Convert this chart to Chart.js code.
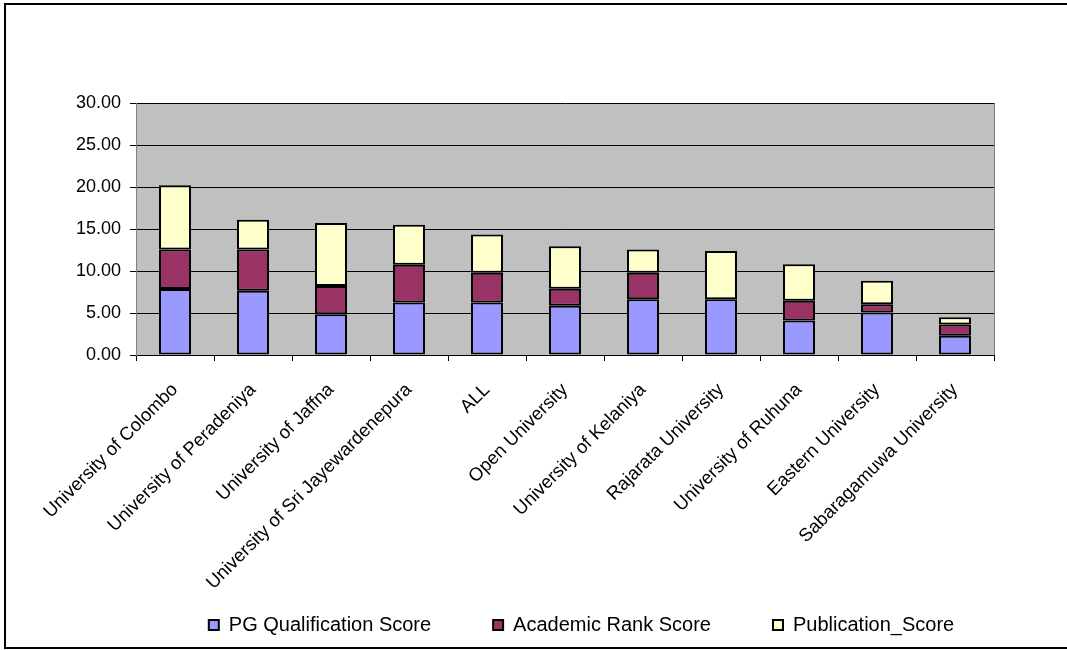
<!DOCTYPE html>
<html>
<head>
<meta charset="utf-8">
<script src="https://cdn.jsdelivr.net/npm/chart.js@4/dist/chart.umd.min.js"></script>
<style>
  html, body { margin: 0; padding: 0; background: #fff; }
  #wrap { width: 1067px; height: 650px; position: relative; }
</style>
</head>
<body>
<div id="wrap"><canvas id="scoreChart"></canvas></div>
<script>
// Categories and series
const universities = ['University of Colombo', 'University of Peradeniya', 'University of Jaffna',
    'University of Sri Jayewardenepura', 'ALL', 'Open University', 'University of Kelaniya',
    'Rajarata University', 'University of Ruhuna', 'Eastern University', 'Sabaragamuwa University'];
const pgScore = [7.85, 7.65, 4.86, 6.25, 6.25, 5.85, 6.65, 6.65, 4.10, 5.05, 2.30];
const rankScore = [4.70, 4.90, 3.34, 4.50, 3.55, 2.04, 3.15, 0.00, 2.35, 1.00, 1.32];
const pubScore = [7.65, 3.55, 7.50, 4.75, 4.54, 5.05, 2.75, 5.74, 4.35, 2.80, 0.88];

const fontFamily = '"Liberation Sans", Arial, sans-serif';

// grey plot background, outer frame, legend nudge
const frame = {
    id: 'frame',
    afterLayout(chart) {
        // legend sits right of centre in the original (frame is cut on the right)
        chart.legend.left += 82;
        chart.legend.right += 82;
    },
    beforeDraw(chart) {
        const { ctx, chartArea: a } = chart;
        // let the long rotated labels run below the axis box
        chart.scales.x.bottom = chart.height;
        ctx.save();
        ctx.fillStyle = '#c0c0c0';
        ctx.fillRect(a.left, a.top, a.right - a.left, a.bottom - a.top);
        ctx.strokeStyle = '#808080';
        ctx.lineWidth = 1;
        ctx.beginPath();
        ctx.moveTo(a.right + 0.5, a.top);
        ctx.lineTo(a.right + 0.5, a.bottom + 6);
        ctx.stroke();
        ctx.strokeStyle = '#000';
        ctx.lineWidth = 2;
        ctx.strokeRect(5, 4, 1200, 644);
        ctx.restore();
    }
};

const ctx = document.getElementById('scoreChart').getContext('2d');
new Chart(ctx, {
    type: 'bar',
    data: {
        labels: universities,
        datasets: [
            { label: 'PG Qualification Score', data: pgScore, backgroundColor: '#9999ff' },
            { label: 'Academic Rank Score', data: rankScore, backgroundColor: '#993366' },
            { label: 'Publication_Score', data: pubScore, backgroundColor: '#ffffcc' }
        ].map(d => Object.assign(d, { borderColor: '#000', borderWidth: 2, borderSkipped: false }))
    },
    options: {
        responsive: true, maintainAspectRatio: false, animation: false,
        devicePixelRatio: 1,
        datasets: { bar: { categoryPercentage: 1, barPercentage: 0.41 } },
        layout: { padding: { left: 5, right: 73, top: 103, bottom: 5 } },
        plugins: {
            tooltip: { enabled: false },
            legend: {
                position: 'bottom',
                labels: { color: '#000', font: { family: fontFamily, size: 20 }, boxWidth: 10, boxHeight: 10, padding: 62 }
            }
        },
        scales: {
            x: {
                stacked: true,
                afterFit: s => { s.height = 198; },
                grid: { offset: true, drawOnChartArea: false, color: '#000', tickLength: 6 },
                border: { color: '#000', width: 1 },
                ticks: { color: '#000', font: { family: fontFamily, size: 18.5 }, maxRotation: 45, minRotation: 45, padding: 18, autoSkip: false }
            },
            y: {
                stacked: true, min: 0, max: 30,
                afterFit: s => { s.width = 131; },
                grid: { color: '#000', tickLength: 6 },
                border: { color: '#808080', width: 1 },
                ticks: { stepSize: 5, color: '#000', padding: 9, font: { family: fontFamily, size: 18 },
                    callback: v => v.toFixed(2) }
            }
        }
    },
    plugins: [frame]
});
</script>
</body>
</html>
